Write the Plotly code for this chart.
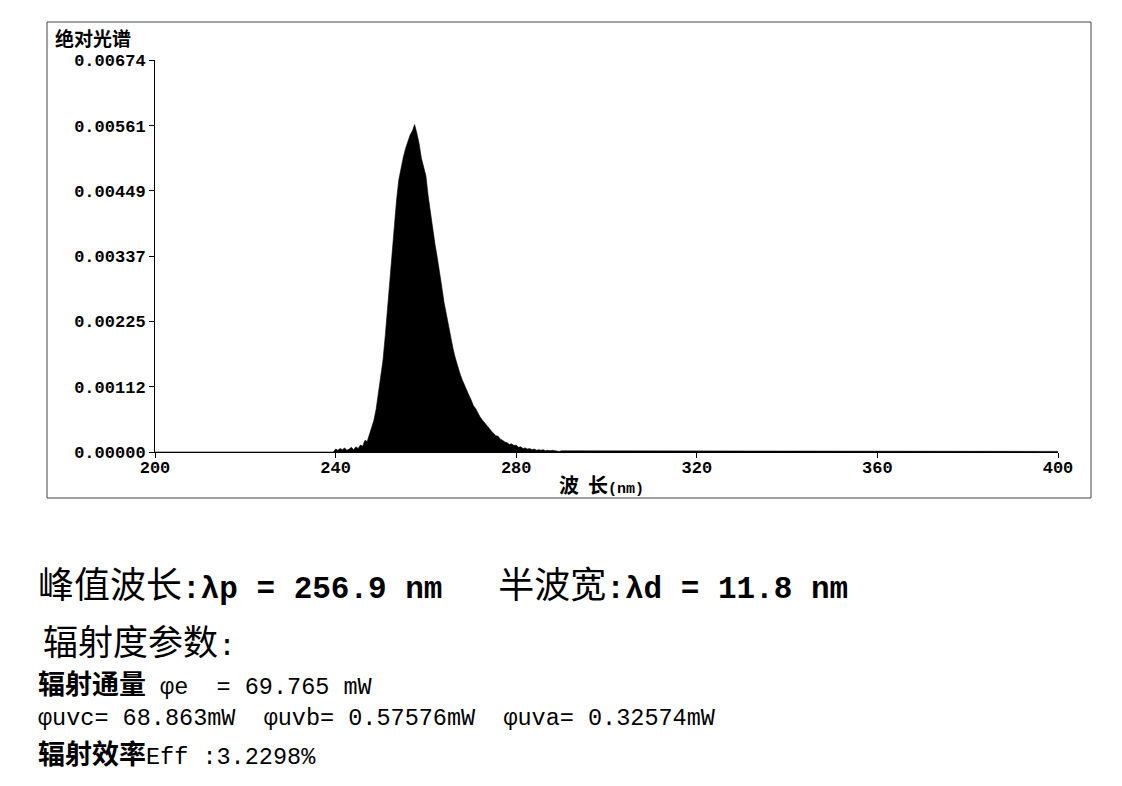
import numpy as np
import plotly.graph_objects as go

# ---------------- data ----------------
# wavelengths (nm) for the densely sampled part 240..290 step 0.5
wl_main = list(np.round(np.arange(240.0, 290.01, 0.5), 1))
# absolute spectrum values (x 1e-5)
val_main = [
    5, 3, 6, 4, 7, 3, 5, 8, 4, 9,
    6, 12, 10, 20, 18, 30, 40, 55, 75, 100,
    125, 158, 200, 248, 300, 350, 392, 433, 468, 490,
    507, 522, 535, 545, 552, 563, 548, 530, 505, 490,
    475, 440, 410, 385, 358, 335, 305, 285, 258, 238,
    215, 192, 178, 162, 148, 136, 125, 115, 105, 98,
    90, 80, 75, 66, 60, 55, 50, 44, 40, 36,
    32, 28, 27, 22, 20, 17, 16, 13, 14, 11,
    12, 8, 9, 6, 7, 5, 6, 4, 5, 3,
    4, 3, 4, 2, 3, 2, 3, 2, 2, 1,
    2,
]
# tail 292..400 step 2
wl_tail = list(range(292, 401, 2))
val_tail = [
    2, 1, 2, 1, 2, 1, 1, 2, 1, 1,
    1, 1, 2, 1, 1, 1, 1, 1, 2, 1,
    1, 1, 1, 1, 1, 2, 1, 1, 1, 1,
    1, 1, 1, 2, 1, 1, 1, 1, 1, 1,
    1, 1, 1, 1, 1, 1, 2, 1, 1, 1,
    1, 1, 1, 1, 1,
]
assert len(wl_main) == len(val_main)
assert len(wl_tail) == len(val_tail)

wavelengths = [200.0, 239.5] + wl_main + wl_tail
intensity = [0.0, 0.0] + [v * 1e-5 for v in val_main] + [v * 1e-5 for v in val_tail]

y_ticks = [0.0, 0.00112, 0.00225, 0.00337, 0.00449, 0.00561, 0.00674]
y_ticktext = ["0.00000", "0.00112", "0.00225", "0.00337", "0.00449", "0.00561", "0.00674"]
x_ticks = [200, 240, 280, 320, 360, 400]

# ---------------- figure ----------------
W, H = 1122, 786
OFF = 8  # page body margin

def px(x):
    return (x - OFF) / W

def py(y):
    return 1 - (y - OFF) / H

fig = go.Figure()
fig.add_trace(go.Scatter(
    x=wavelengths, y=intensity, mode="lines",
    line=dict(color="black", width=0.6),
    fill="tozeroy", fillcolor="black",
    hoverinfo="x+y", showlegend=False,
))

mono = "Liberation Mono, Courier New, monospace"
cjk = "Noto Sans CJK SC, sans-serif"

fig.update_layout(
    template="none",
    width=W, height=H,
    margin=dict(l=0, r=0, t=0, b=0, pad=0),
    paper_bgcolor="white", plot_bgcolor="white",
    xaxis=dict(
        automargin=False,
        domain=[px(155), px(1058)], range=[200, 400],
        tickvals=x_ticks, ticks="outside", ticklen=5, tickcolor="black",
        ticklabelstandoff=-5,
        showline=True, linecolor="black", linewidth=1,
        showgrid=False, zeroline=False,
        tickfont=dict(family=mono, size=17, color="black", weight="bold"),
    ),
    yaxis=dict(
        automargin=False,
        domain=[py(452), py(60)], range=[0, 0.00674],
        tickvals=y_ticks, ticktext=y_ticktext,
        ticks="outside", ticklen=5, tickcolor="black",
        showline=True, linecolor="black", linewidth=1,
        showgrid=False, zeroline=False,
        tickfont=dict(family=mono, size=17, color="black", weight="bold"),
    ),
)

# chart border box
fig.add_shape(type="rect", xref="paper", yref="paper",
              x0=px(47), x1=px(1091), y0=py(498), y1=py(22),
              line=dict(color="#444444", width=1))

def note(x, y, text, size=16, family=mono, weight="normal"):
    fig.add_annotation(xref="paper", yref="paper", x=px(x), y=py(y),
                       xanchor="left", yanchor="middle", showarrow=False,
                       text=text, align="left",
                       font=dict(family=family, size=size, color="black", weight=weight))

# axis titles
note(53, 38, "<b>绝对光谱</b>", size=19, family=cjk)
note(557, 485, "<b>波  长</b><span style='font-family:Liberation Mono;font-size:15px'><b>(nm)</b></span>",
     size=20, family=cjk)

# parameter text block
note(36, 582,
     "<span style='font-family:Noto Sans CJK SC;font-size:36px'>峰值波长</span>"
     "<b>:λp = 256.9 nm   </b>"
     "<span style='font-family:Noto Sans CJK SC;font-size:36px'>半波宽</span>"
     "<b>:λd = 11.8 nm</b>",
     size=31, family=mono)
note(41, 639,
     "<span style='font-family:Noto Sans CJK SC;font-size:35px'>辐射度参数</span>:",
     size=30, family=mono)
note(36, 682,
     "<span style='font-family:Noto Sans CJK SC;font-size:27px'><b>辐射通量</b></span>"
     " φe  = 69.765 mW",
     size=23.5, family=mono)
note(36, 718, "φuvc= 68.863mW  φuvb= 0.57576mW  φuva= 0.32574mW", size=23.5, family=mono)
note(36, 752,
     "<span style='font-family:Noto Sans CJK SC;font-size:27px'><b>辐射效率</b></span>"
     "Eff :3.2298%",
     size=23.5, family=mono)

fig.write_html("out.html")
